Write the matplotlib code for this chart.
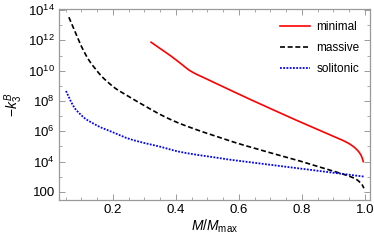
import numpy as np
import matplotlib
matplotlib.use("Agg")
import matplotlib.pyplot as plt
from matplotlib.ticker import FixedLocator, FuncFormatter, NullFormatter

# Data (x = M/Mmax, y = log10(-k3^B))
minimal_x = [0.321, 0.349, 0.380, 0.410, 0.444, 0.500, 0.550, 0.600, 0.650, 0.700, 0.750, 0.800, 0.850, 0.900, 0.930, 0.955, 0.974, 0.985, 0.991, 0.995]
minimal_logy = [11.88, 11.48, 11.03, 10.56, 10.01, 9.43, 8.94, 8.45, 7.97, 7.50, 7.03, 6.57, 6.12, 5.66, 5.40, 5.12, 4.80, 4.52, 4.27, 4.00]

massive_x = [0.060, 0.080, 0.100, 0.122, 0.145, 0.164, 0.185, 0.206, 0.240, 0.270, 0.310, 0.349, 0.400, 0.466, 0.520, 0.556, 0.600, 0.650, 0.700, 0.746, 0.800, 0.850, 0.905, 0.937, 0.960, 0.975, 0.985, 0.992, 0.997]
massive_logy = [13.53, 12.55, 11.60, 10.75, 10.10, 9.63, 9.22, 8.86, 8.42, 8.05, 7.57, 7.12, 6.62, 6.10, 5.72, 5.47, 5.18, 4.88, 4.58, 4.32, 4.00, 3.68, 3.34, 3.13, 2.96, 2.80, 2.62, 2.45, 2.24]

solitonic_x = [0.051, 0.065, 0.079, 0.095, 0.111, 0.137, 0.159, 0.190, 0.243, 0.280, 0.315, 0.349, 0.400, 0.466, 0.520, 0.556, 0.600, 0.650, 0.700, 0.746, 0.800, 0.850, 0.905, 0.937, 0.997]
solitonic_logy = [8.66, 8.02, 7.52, 7.15, 6.85, 6.52, 6.28, 6.02, 5.56, 5.33, 5.15, 4.99, 4.70, 4.45, 4.29, 4.17, 4.05, 3.92, 3.79, 3.67, 3.53, 3.40, 3.26, 3.17, 3.01]

xticks = [0.2, 0.4, 0.6, 0.8, 1.0]
yticks_exp = [2, 4, 6, 8, 10, 12, 14]

plt.rcParams['font.family'] = ['Liberation Sans', 'DejaVu Sans']
plt.rcParams['mathtext.fontset'] = 'custom'
plt.rcParams['mathtext.rm'] = 'Liberation Sans'
plt.rcParams['mathtext.it'] = 'Liberation Sans:italic'

fig = plt.figure(figsize=(3.74, 2.40), dpi=100)
ax = fig.add_axes([0.158, 0.167, 0.831, 0.796])

def smooth(x, ly, n=40):
    # cubic Hermite through the read points (finite-difference slopes)
    x = np.asarray(x, float); y = np.asarray(ly, float)
    d = np.diff(y) / np.diff(x)
    m = np.empty_like(y)
    m[0] = d[0]; m[-1] = d[-1]
    m[1:-1] = 0.5 * (d[:-1] + d[1:])
    xs_all, ys_all = [], []
    for i in range(len(x) - 1):
        h = x[i + 1] - x[i]
        t = np.linspace(0, 1, n, endpoint=(i == len(x) - 2))
        h00 = 2 * t**3 - 3 * t**2 + 1
        h10 = t**3 - 2 * t**2 + t
        h01 = -2 * t**3 + 3 * t**2
        h11 = t**3 - t**2
        ys = h00 * y[i] + h10 * h * m[i] + h01 * y[i + 1] + h11 * h * m[i + 1]
        xs_all.append(x[i] + t * h); ys_all.append(ys)
    return np.concatenate(xs_all), 10 ** np.concatenate(ys_all)

ax.plot(*smooth(minimal_x, minimal_logy), color='#ff0000', lw=1.2, label='minimal')
ax.plot(*smooth(massive_x, massive_logy), color='black', lw=1.2, ls=(0, (3, 1.6)), label='massive')
ax.plot(*smooth(solitonic_x, solitonic_logy), color='#0000ff', lw=1.3, ls=(0, (1, 0.8)), label='solitonic')

ax.set_yscale('log')
ax.set_xlim(0.029, 1.016)
ax.set_ylim(10 ** 1.47, 10 ** 14.08)

ax.set_xticks(xticks)
ax.set_xticklabels(['%.1f' % v for v in xticks])
ax.xaxis.set_minor_locator(FixedLocator(np.arange(0.05, 1.01, 0.05)))

ax.yaxis.set_major_locator(FixedLocator([10.0 ** e for e in yticks_exp]))
ax.yaxis.set_minor_locator(FixedLocator([10.0 ** e for e in range(1, 15, 1) if e not in yticks_exp]))
def yfmt(v, pos):
    e = int(round(np.log10(v)))
    if e == 2:
        return '100'
    return r'$10^{%d}$' % e
ax.yaxis.set_major_formatter(FuncFormatter(yfmt))
ax.yaxis.set_minor_formatter(NullFormatter())
ax.xaxis.set_minor_formatter(NullFormatter())

gray = '#9a9a9a'
for s in ax.spines.values():
    s.set_color(gray)
    s.set_linewidth(0.9)
ax.tick_params(which='both', direction='in', top=True, right=True, color=gray, labelsize=9.5, pad=3)
ax.tick_params(which='major', length=4, width=0.7)
ax.tick_params(which='minor', length=2.2, width=0.6)

ax.set_xlabel(r'$M/M_{\mathrm{max}}$', fontsize=10, labelpad=1)
ax.set_ylabel(r'$-k_3^B$', fontsize=10, labelpad=2)

leg = ax.legend(loc='upper right', frameon=False, fontsize=8.5, handlelength=2.6,
                handletextpad=0.5, labelspacing=0.75, bbox_to_anchor=(1.0, 0.99))

fig.savefig('out.png', dpi=100)
